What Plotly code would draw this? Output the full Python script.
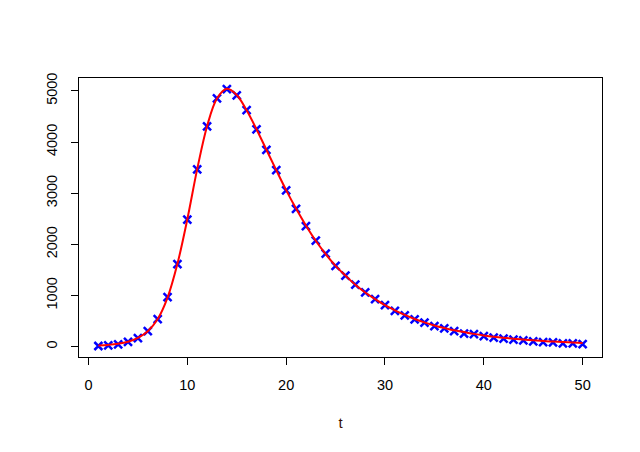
import plotly.graph_objects as go

# observed counts at each time step
t = list(range(1, 51))
observed = [13, 26, 46, 92, 165, 303, 540, 968, 1614, 2483,
            3465, 4308, 4855, 5033, 4914, 4625, 4249, 3848, 3452, 3057,
            2694, 2358, 2075, 1818, 1581, 1389, 1212, 1061, 929, 810,
            698, 612, 534, 470, 400, 356, 303, 257, 243, 204,
            178, 158, 138, 125, 105, 88, 85, 66, 66, 52]

# fitted model curve (red line)
fitted = [25, 35, 55, 95, 170, 300, 540, 960, 1620, 2490,
          3470, 4310, 4850, 5040, 4920, 4620, 4250, 3850, 3450, 3060,
          2700, 2370, 2070, 1810, 1580, 1390, 1210, 1060, 930, 810,
          710, 620, 540, 475, 415, 365, 320, 285, 250, 220,
          195, 175, 155, 140, 125, 110, 100, 90, 80, 70]

x_ticks = [0, 10, 20, 30, 40, 50]
y_ticks = [0, 1000, 2000, 3000, 4000, 5000]

font = dict(family="Liberation Sans, Arial, sans-serif", size=14.5, color="black")

fig = go.Figure([
    go.Scatter(x=t, y=observed, mode="markers",
               marker=dict(symbol="x-thin", size=8, color="blue",
                           line=dict(color="blue", width=2.5))),
    go.Scatter(x=t, y=fitted, mode="lines", line_shape="spline",
               line=dict(color="red", width=2)),
])

axis = dict(showline=True, linecolor="black", linewidth=1, mirror=True,
            ticks="outside", ticklen=7, tickcolor="black", tickwidth=1,
            showgrid=False, zeroline=False, tickfont=font,
            ticklabelstandoff=8)

# page body has an 8px margin, so the figure is 8px smaller
fig.update_layout(
    width=632, height=444,
    margin=dict(l=71, r=38, t=70, b=95),
    plot_bgcolor="white",
    paper_bgcolor="white",
    showlegend=False,
    font=font,
)
fig.update_xaxes(axis, range=[-0.96, 51.96], tickvals=x_ticks,
                 title=dict(text="t", font=dict(size=15, color="#3a1005"), standoff=25))
fig.update_yaxes(axis, range=[-202, 5252], tickvals=y_ticks, tickangle=-90)

fig.write_html("out.html")
